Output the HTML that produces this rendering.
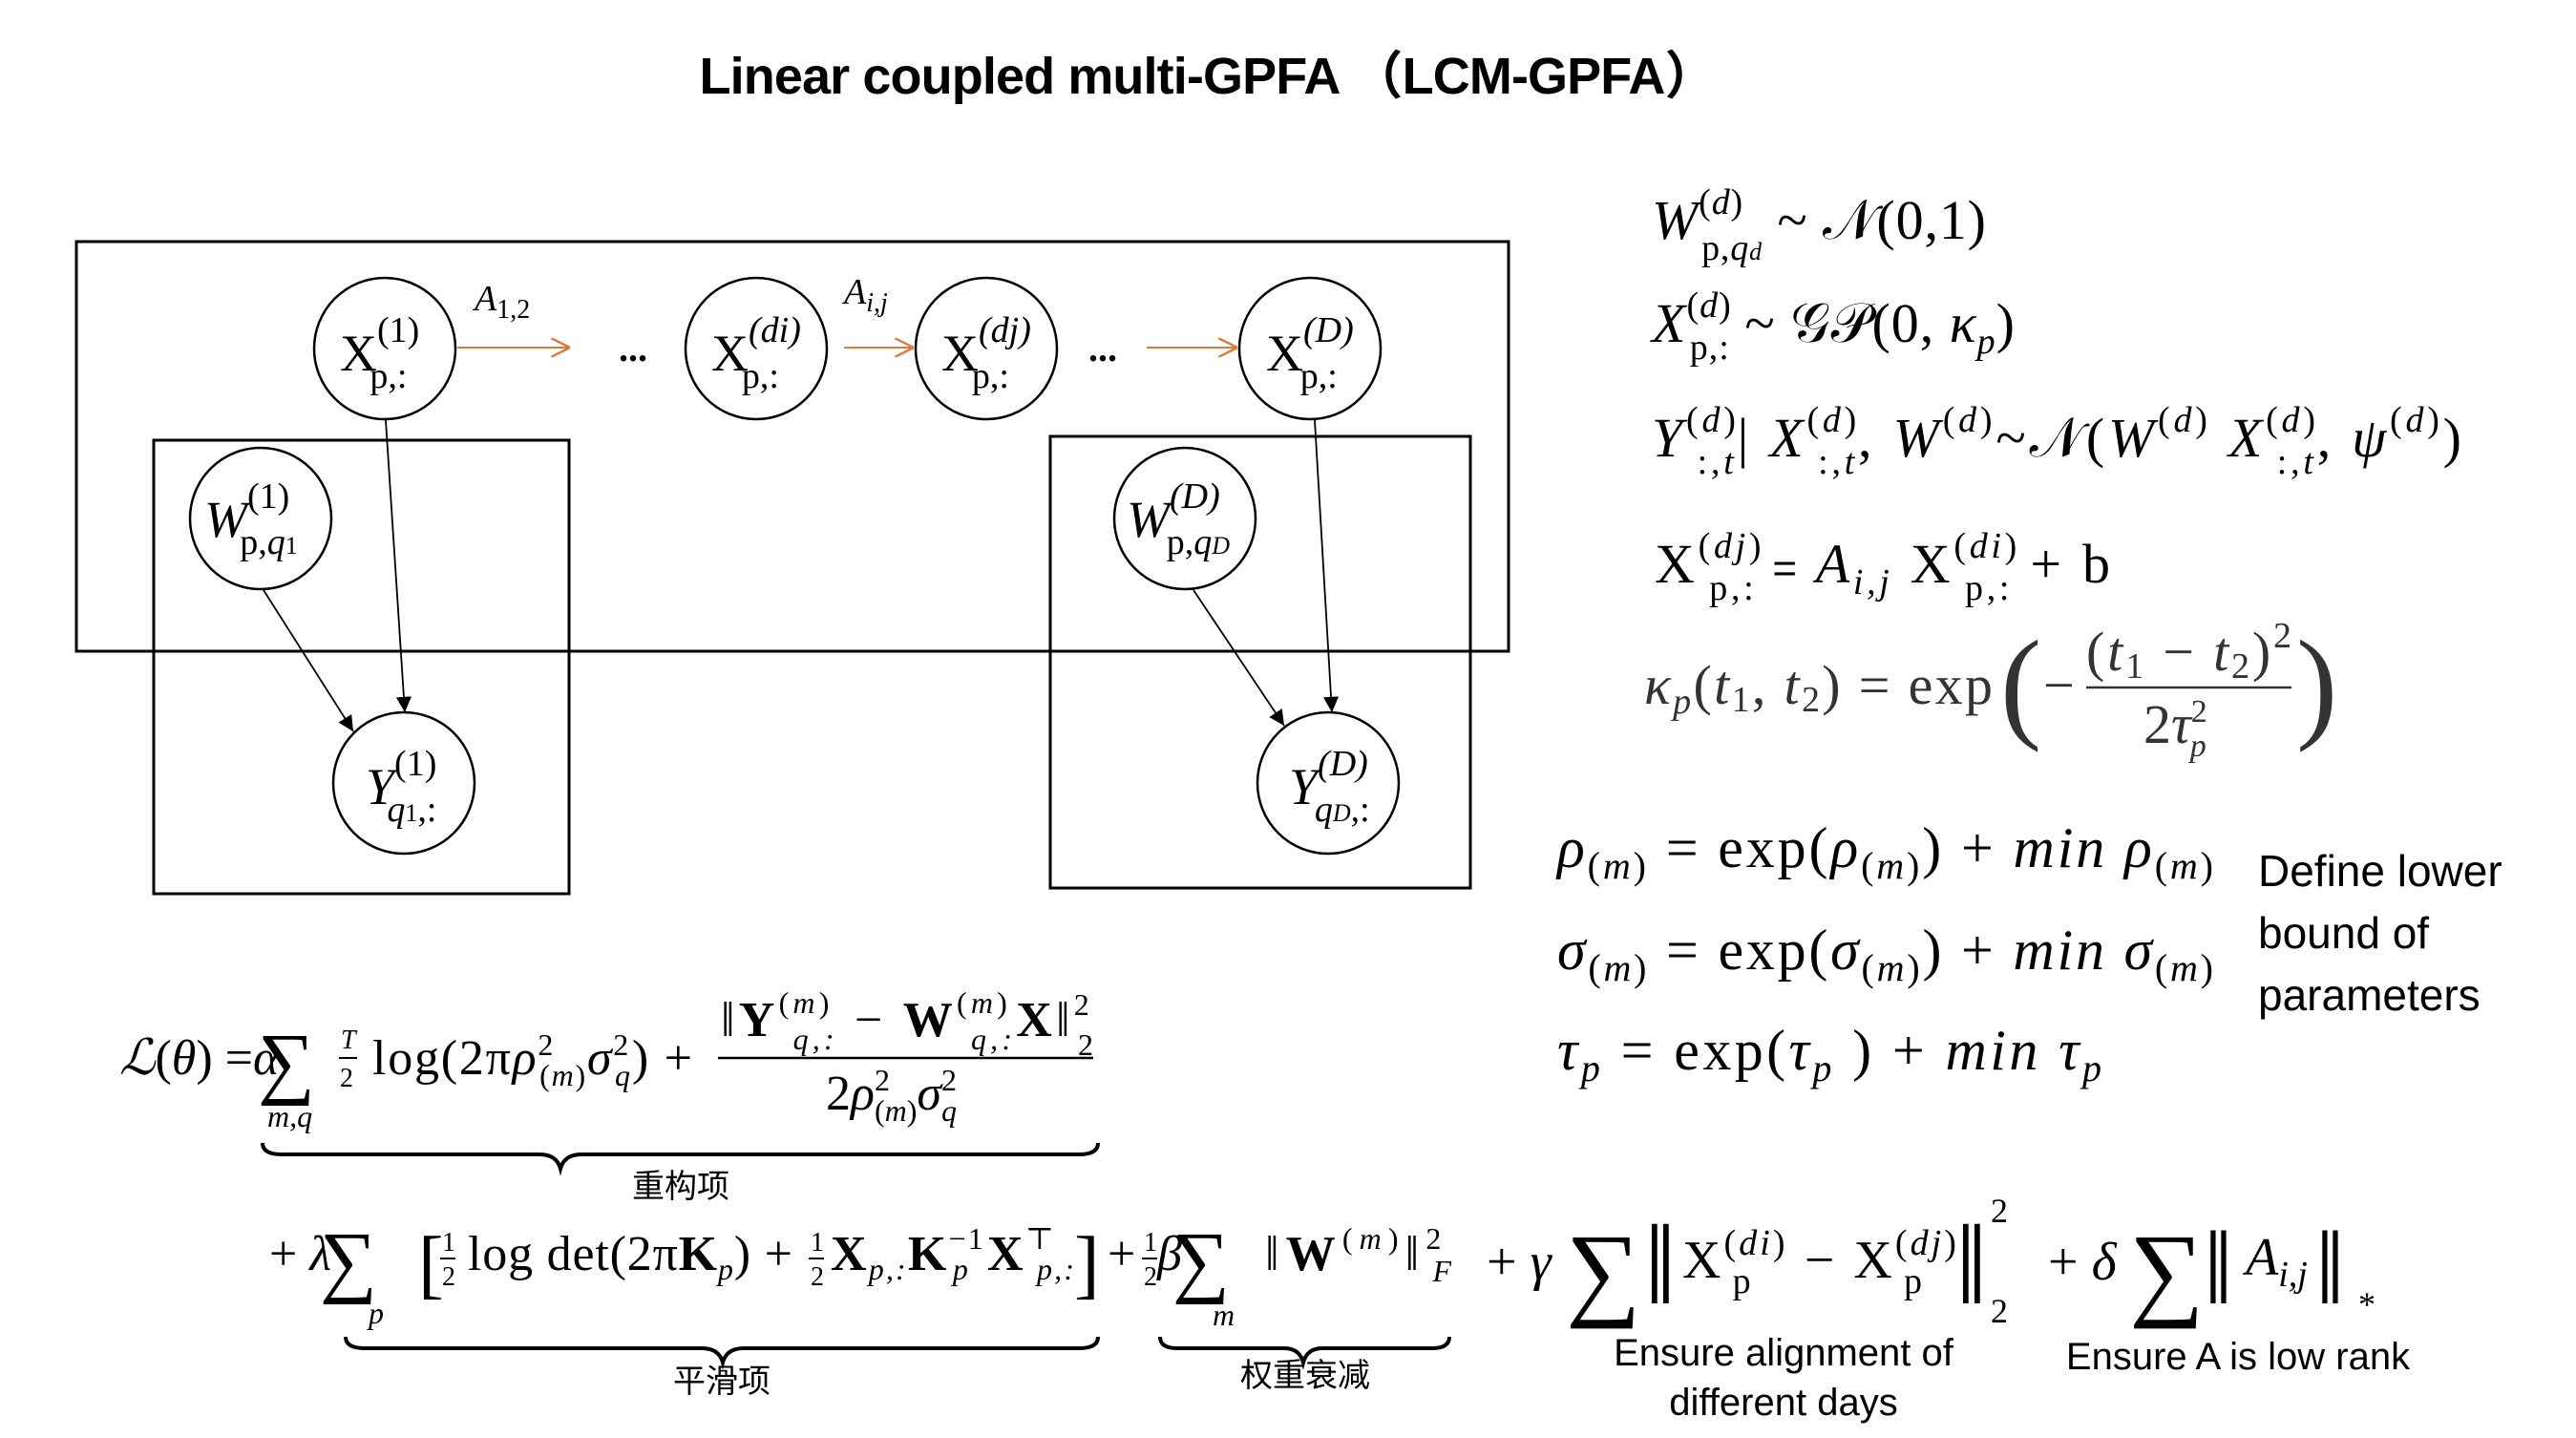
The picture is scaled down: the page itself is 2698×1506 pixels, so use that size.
<!DOCTYPE html>
<html><head><meta charset="utf-8"><style>
html,body{margin:0;padding:0;background:#fff;}
svg{display:block}
.m{font-family:"Liberation Serif","DejaVu Serif",serif;fill:#000}
.i{font-style:italic}
.s{font-family:"Liberation Sans","Noto Sans CJK SC",sans-serif;fill:#000}
</style></head><body>
<svg width="2698" height="1506" viewBox="0 0 2698 1506" xmlns="http://www.w3.org/2000/svg">
<defs>
<marker id="ab" viewBox="0 0 10 10" refX="10" refY="5" markerWidth="9" markerHeight="9" orient="auto"><path d="M0,0 L10,5 L0,10 z" fill="#000"/></marker>
<marker id="ao" viewBox="0 0 10 10" refX="10" refY="5" markerWidth="10" markerHeight="10" orient="auto"><path d="M0,0 L10,5 L0,10" fill="none" stroke="#e07a3a" stroke-width="1.2"/></marker>
</defs>
<text x="1265" y="98" text-anchor="middle" class="s" font-size="54" font-weight="bold" textLength="1065">Linear coupled multi-GPFA （LCM-GPFA）</text>

<g fill="none" stroke="#000" stroke-width="3">
<rect x="80" y="253" width="1500" height="429"/>
<rect x="161" y="461" width="435" height="475"/>
<rect x="1100" y="457" width="440" height="473"/>
<g stroke-width="2.5">
<ellipse cx="403" cy="365" rx="74" ry="74"/>
<ellipse cx="792" cy="365" rx="74" ry="74"/>
<ellipse cx="1033" cy="365" rx="74" ry="74"/>
<ellipse cx="1372" cy="365" rx="74" ry="74"/>
<ellipse cx="273" cy="543" rx="74" ry="74"/>
<ellipse cx="1241" cy="543" rx="74" ry="74"/>
<ellipse cx="423" cy="820" rx="74" ry="74"/>
<ellipse cx="1391" cy="820" rx="74" ry="74"/>
</g>
<g stroke-width="1.8">
<line x1="404" y1="440" x2="424" y2="746" marker-end="url(#ab)"/>
<line x1="276" y1="618" x2="370" y2="766" marker-end="url(#ab)"/>
<line x1="1377" y1="440" x2="1395" y2="746" marker-end="url(#ab)"/>
<line x1="1250" y1="618" x2="1345" y2="760" marker-end="url(#ab)"/>
</g>
<g stroke="#e07a3a" stroke-width="2">
<line x1="479" y1="364" x2="597" y2="364" marker-end="url(#ao)"/>
<line x1="884" y1="364" x2="957" y2="364" marker-end="url(#ao)"/>
<line x1="1201" y1="364" x2="1296" y2="364" marker-end="url(#ao)"/>
</g>
</g>
<g class="m" font-size="54">
<text x="356" y="388">X<tspan font-size="38" dy="-30">(1)</tspan><tspan font-size="38" dx="-52" dy="48">p,:</tspan></text>
<text x="745" y="388">X<tspan font-size="38" dy="-30" class="i">(di)</tspan><tspan font-size="38" dx="-62" dy="48">p,:</tspan></text>
<text x="986" y="388">X<tspan font-size="38" dy="-30" class="i">(dj)</tspan><tspan font-size="38" dx="-62" dy="48">p,:</tspan></text>
<text x="1326" y="388">X<tspan font-size="38" dy="-30" class="i">(D)</tspan><tspan font-size="38" dx="-56" dy="48">p,:</tspan></text>
<text x="214" y="562" class="i">W<tspan font-size="38" dy="-30" font-style="normal">(1)</tspan><tspan font-size="38" font-style="normal" dx="-52" dy="48">p,<tspan class="i">q</tspan><tspan font-size="26">1</tspan></tspan></text>
<text x="1180" y="562" class="i">W<tspan font-size="38" dy="-30">(D)</tspan><tspan font-size="38" font-style="normal" dx="-56" dy="48">p,<tspan class="i">q</tspan><tspan font-size="26" class="i">D</tspan></tspan></text>
<text x="383" y="842" class="i">Y<tspan font-size="38" dy="-30" font-style="normal">(1)</tspan><tspan font-size="38" dx="-52" dy="48">q<tspan font-size="26" font-style="normal">1</tspan><tspan font-style="normal">,:</tspan></tspan></text>
<text x="1350" y="842" class="i">Y<tspan font-size="38" dy="-30">(D)</tspan><tspan font-size="38" dx="-56" dy="48">q<tspan font-size="26">D</tspan><tspan font-style="normal">,:</tspan></tspan></text>
<text x="497" y="325" class="i" font-size="38">A<tspan font-size="28" font-style="normal" dy="8">1,2</tspan></text>
<text x="884" y="318" class="i" font-size="38">A<tspan font-size="28" dy="8">i,j</tspan></text>
<text x="648" y="378" font-size="40" font-weight="bold">...</text>
<text x="1140" y="378" font-size="40" font-weight="bold">...</text>
</g>

<g class="m" font-size="58">
<text x="1730" y="250" textLength="350"><tspan class="i">W</tspan><tspan font-size="38" dy="-26">(<tspan class="i">d</tspan>)</tspan><tspan font-size="38" dx="-44" dy="48">p,<tspan class="i">q<tspan font-size="26">d</tspan></tspan></tspan><tspan dy="-22"> ~ 𝒩(0,1)</tspan></text>
<text x="1730" y="358" textLength="380"><tspan class="i">X</tspan><tspan font-size="38" dy="-26">(<tspan class="i">d</tspan>)</tspan><tspan font-size="38" dx="-44" dy="44">p,:</tspan><tspan dy="-18"> ~ 𝒢𝒫(0, <tspan class="i">κ<tspan font-size="38" dy="12">p</tspan></tspan><tspan dy="-12">)</tspan></tspan></text>
<text x="1730" y="478" textLength="848"><tspan class="i">Y</tspan><tspan font-size="38" dy="-26">(<tspan class="i">d</tspan>)</tspan><tspan font-size="38" dx="-44" dy="44">:,<tspan class="i">t</tspan></tspan><tspan dy="-18">| <tspan class="i">X</tspan></tspan><tspan font-size="38" dy="-26">(<tspan class="i">d</tspan>)</tspan><tspan font-size="38" dx="-44" dy="44">:,<tspan class="i">t</tspan></tspan><tspan dy="-18">, <tspan class="i">W</tspan></tspan><tspan font-size="38" dy="-26">(<tspan class="i">d</tspan>)</tspan><tspan dy="26">~𝒩(<tspan class="i">W</tspan></tspan><tspan font-size="38" dy="-26">(<tspan class="i">d</tspan>)</tspan><tspan dy="26"> <tspan class="i">X</tspan></tspan><tspan font-size="38" dy="-26">(<tspan class="i">d</tspan>)</tspan><tspan font-size="38" dx="-44" dy="44">:,<tspan class="i">t</tspan></tspan><tspan dy="-18">, <tspan class="i">ψ</tspan></tspan><tspan font-size="38" dy="-26">(<tspan class="i">d</tspan>)</tspan><tspan dy="26">)</tspan></text>
<text x="1733" y="610" textLength="477">X<tspan font-size="38" dy="-26">(<tspan class="i">dj</tspan>)</tspan><tspan font-size="38" dx="-58" dy="44">p,:</tspan><tspan dy="-18" font-family="Liberation Sans" font-size="44">  =  </tspan><tspan class="i">A<tspan font-size="38" dy="12">i,j</tspan></tspan><tspan dy="-12"> X</tspan><tspan font-size="38" dy="-26">(<tspan class="i">di</tspan>)</tspan><tspan font-size="38" dx="-58" dy="44">p,:</tspan><tspan dy="-18">   + b</tspan></text>
<g fill="#333">
<text x="1722" y="737" textLength="365"><tspan class="i">κ<tspan font-size="38" dy="10">p</tspan></tspan><tspan dy="-10">(<tspan class="i">t</tspan><tspan font-size="38" dy="8">1</tspan><tspan dy="-8">, </tspan><tspan class="i">t</tspan><tspan font-size="38" dy="8">2</tspan><tspan dy="-8">) = exp</tspan></tspan></text>
<text x="2095" y="760" font-size="130" font-weight="100">(</text>
<text x="2140" y="737">−</text>
<text x="2185" y="702" textLength="215">(<tspan class="i">t</tspan><tspan font-size="38" dy="8">1</tspan><tspan dy="-8"> − </tspan><tspan class="i">t</tspan><tspan font-size="38" dy="8">2</tspan><tspan dy="-8">)</tspan><tspan font-size="38" dy="-24">2</tspan></text>
<line x1="2185" y1="720" x2="2400" y2="720" stroke="#333" stroke-width="2.5"/>
<text x="2245" y="778">2<tspan class="i">τ</tspan><tspan font-size="34" dy="-22">2</tspan><tspan font-size="34" class="i" dx="-18" dy="36">p</tspan></text>
<text x="2405" y="760" font-size="130" font-weight="100">)</text>
</g>
<text x="1631" y="908" textLength="687" font-size="60"><tspan class="i">ρ</tspan><tspan font-size="40" dy="12">(<tspan class="i">m</tspan>)</tspan><tspan dy="-12">  = exp(<tspan class="i">ρ</tspan></tspan><tspan font-size="40" dy="12">(<tspan class="i">m</tspan>)</tspan><tspan dy="-12">) + <tspan class="i">min ρ</tspan></tspan><tspan font-size="40" dy="12">(<tspan class="i">m</tspan>)</tspan></text>
<text x="1631" y="1015" textLength="687" font-size="60"><tspan class="i">σ</tspan><tspan font-size="40" dy="12">(<tspan class="i">m</tspan>)</tspan><tspan dy="-12">  = exp(<tspan class="i">σ</tspan></tspan><tspan font-size="40" dy="12">(<tspan class="i">m</tspan>)</tspan><tspan dy="-12">) + <tspan class="i">min σ</tspan></tspan><tspan font-size="40" dy="12">(<tspan class="i">m</tspan>)</tspan></text>
<text x="1631" y="1120" textLength="570" font-size="60"><tspan class="i">τ</tspan><tspan font-size="40" dy="12" class="i">p</tspan><tspan dy="-12">   = exp(<tspan class="i">τ</tspan></tspan><tspan font-size="40" dy="12" class="i">p</tspan><tspan dy="-12"> ) + <tspan class="i">min τ</tspan></tspan><tspan font-size="40" dy="12" class="i">p</tspan></text>
</g>
<g class="s" font-size="46">
<text x="2365" y="928">Define lower</text>
<text x="2365" y="993">bound of</text>
<text x="2365" y="1058">parameters</text>
</g>

<g class="m" font-size="52">
<text x="125" y="1125"><tspan class="i">ℒ</tspan>(<tspan class="i">θ</tspan>) =<tspan class="i">α</tspan></text>
<text x="270" y="1140" font-size="84">∑</text>
<text x="280" y="1180" font-size="32" class="i">m,q</text>
<text x="357" y="1098" font-size="28" class="i">T</text><line x1="355" y1="1108" x2="374" y2="1108" stroke="#000" stroke-width="2"/><text x="356" y="1138" font-size="28">2</text>
<text x="390" y="1125" textLength="335">log(2π<tspan class="i">ρ</tspan><tspan font-size="32" dy="-20">2</tspan><tspan font-size="32" dx="-16" dy="32">(<tspan class="i">m</tspan>)</tspan><tspan class="i" dy="-12">σ</tspan><tspan font-size="32" dy="-20">2</tspan><tspan font-size="32" class="i" dx="-16" dy="32">q</tspan><tspan dy="-12">) +</tspan></text>
<text x="755" y="1085" textLength="390">‖<tspan font-weight="bold">Y</tspan><tspan font-size="32" dy="-24">(<tspan class="i">m</tspan>)</tspan><tspan font-size="32" class="i" dx="-42" dy="38">q,:</tspan><tspan dy="-14"> − </tspan><tspan font-weight="bold">W</tspan><tspan font-size="32" dy="-24">(<tspan class="i">m</tspan>)</tspan><tspan font-size="32" class="i" dx="-42" dy="38">q,:</tspan><tspan dy="-14" font-weight="bold">X</tspan>‖<tspan font-size="32" dy="-22">2</tspan><tspan font-size="32" dx="-16" dy="42">2</tspan></text>
<line x1="752" y1="1108" x2="1145" y2="1108" stroke="#000" stroke-width="2.5"/>
<text x="865" y="1162">2<tspan class="i">ρ</tspan><tspan font-size="32" dy="-20">2</tspan><tspan font-size="32" dx="-16" dy="32">(<tspan class="i">m</tspan>)</tspan><tspan class="i" dy="-12">σ</tspan><tspan font-size="32" dy="-20">2</tspan><tspan font-size="32" class="i" dx="-16" dy="32">q</tspan></text>

<text x="282" y="1330">+ <tspan class="i">λ</tspan></text>
<text x="335" y="1348" font-size="84">∑</text>
<text x="386" y="1386" font-size="32" class="i">p</text>
<text x="438" y="1350" font-size="80" font-weight="100">[</text>
<text x="463" y="1310" font-size="28">1</text><line x1="461" y1="1318" x2="477" y2="1318" stroke="#000" stroke-width="2"/><text x="463" y="1346" font-size="28">2</text>
<text x="490" y="1330" textLength="340">log det(2π<tspan font-weight="bold">K</tspan><tspan font-size="32" class="i" dy="10">p</tspan><tspan dy="-10">) +</tspan></text>
<text x="849" y="1310" font-size="28">1</text><line x1="847" y1="1318" x2="863" y2="1318" stroke="#000" stroke-width="2"/><text x="849" y="1346" font-size="28">2</text>
<text x="870" y="1330" textLength="255"><tspan font-weight="bold">X</tspan><tspan font-size="32" class="i" dy="10">p,:</tspan><tspan font-weight="bold" dy="-10">K</tspan><tspan font-size="32" dy="-22">−1</tspan><tspan font-size="32" class="i" dx="-34" dy="32">p</tspan><tspan font-weight="bold" dx="18" dy="-10">X</tspan><tspan font-size="32" dy="-22">⊤</tspan><tspan font-size="32" class="i" dx="-20" dy="32">p,:</tspan></text>
<text x="1125" y="1350" font-size="80" font-weight="100">]</text>
<text x="1160" y="1330">+</text>
<text x="1198" y="1310" font-size="28">1</text><line x1="1196" y1="1318" x2="1212" y2="1318" stroke="#000" stroke-width="2"/><text x="1198" y="1346" font-size="28">2</text>
<text x="1212" y="1330" class="i">β</text>
<text x="1228" y="1348" font-size="84">∑</text>
<text x="1270" y="1388" font-size="32" class="i">m</text>
<text x="1325" y="1330" textLength="195">‖<tspan font-weight="bold">W</tspan><tspan font-size="32" dy="-22">(<tspan class="i">m</tspan>)</tspan><tspan dy="22">‖</tspan><tspan font-size="32" dy="-22">2</tspan><tspan font-size="32" class="i" dx="-16" dy="34">F</tspan></text>

<g font-size="56">
<text x="1557" y="1340">+ <tspan class="i">γ</tspan></text>
<text x="1640" y="1368" font-size="110">∑</text>
<text x="1722" y="1365" font-size="120" font-weight="100">‖</text>
<text x="1762" y="1338" textLength="290">X<tspan font-size="38" dy="-24">(<tspan class="i">di</tspan>)</tspan><tspan font-size="38" dx="-58" dy="40">p</tspan><tspan dx="36" dy="-16"> − X</tspan><tspan font-size="38" dy="-24">(<tspan class="i">dj</tspan>)</tspan><tspan font-size="38" dx="-58" dy="40">p</tspan></text>
<text x="2048" y="1365" font-size="120" font-weight="100">‖</text>
<text x="2085" y="1280" font-size="36">2</text>
<text x="2085" y="1385" font-size="36">2</text>
<text x="2145" y="1340">+ <tspan class="i">δ</tspan></text>
<text x="2230" y="1368" font-size="110">∑</text>
<text x="2308" y="1365" font-size="110" font-weight="100">‖</text>
<text x="2352" y="1335" class="i">A<tspan font-size="38" dy="12">i,j</tspan></text>
<text x="2425" y="1365" font-size="110" font-weight="100">‖</text>
<text x="2470" y="1378" font-size="36">*</text>
</g>
</g>

<g fill="none" stroke="#000" stroke-width="4">
<path d="M275,1197 q0,12 20,12 L565,1209 q18,0 22,15 q4,-15 22,-15 L1130,1209 q20,0 20,-12"/>
<path d="M362,1400 q0,12 20,12 L735,1412 q18,0 22,15 q4,-15 22,-15 L1130,1412 q20,0 20,-12"/>
<path d="M1215,1400 q0,12 18,12 L1345,1412 q16,0 20,15 q4,-15 20,-15 L1500,1412 q18,0 18,-12"/>
</g>
<g class="s" font-size="34" text-anchor="middle">
<text x="713" y="1254">重构项</text>
<text x="756" y="1458">平滑项</text>
<text x="1367" y="1452">权重衰减</text>
<text x="1868" y="1430" font-size="40">Ensure alignment of</text>
<text x="1868" y="1482" font-size="40">different days</text>
<text x="2344" y="1434" font-size="40">Ensure A is low rank</text>
</g>
</svg>
</body></html>
